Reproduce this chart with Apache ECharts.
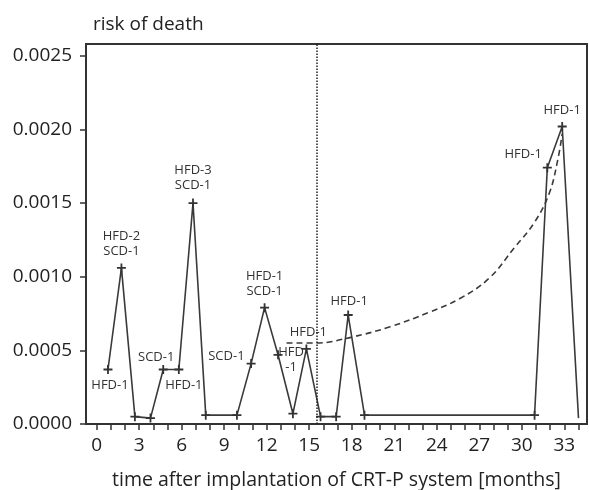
<!DOCTYPE html>
<html>
<head>
<meta charset="utf-8">
<script src="https://cdn.jsdelivr.net/npm/echarts@6/dist/echarts.min.js"></script>
<style>
  html, body { margin: 0; padding: 0; background: #fff; }
  #chart { width: 589px; height: 490px; }
</style>
</head>
<body>
<div id="chart"></div>
<script>
// observed risk per month
const months = [0.8, 1.75, 2.7, 3.8, 4.7, 5.8, 6.8, 7.7, 9.9, 10.9, 11.85, 12.8, 13.85, 14.8, 15.8, 16.9, 17.75, 18.9, 30.9, 31.8, 32.85, 34];
const risk = [0.00037, 0.00106, 0.00005, 0.00004, 0.00037, 0.00037, 0.0015, 0.00006, 0.00006, 0.00041, 0.00079, 0.00047, 0.00007, 0.00051, 0.00005, 0.00005, 0.00074, 0.00006, 0.00006, 0.00174, 0.00202, 0.00004];
const events = ['HFD-1', 'HFD-2\nSCD-1', '', '', 'SCD-1', 'HFD-1', 'HFD-3\nSCD-1', '', '', 'SCD-1', 'HFD-1\nSCD-1', 'HFD\n-1', '', 'HFD-1', '', '', 'HFD-1', '', '', 'HFD-1', 'HFD-1', ''];

// dashed trend curve
const trendMonths = [13.4, 15.5, 18.0, 20.7, 23.5, 25.6, 27.7, 29.5, 30.9, 31.95, 32.55, 32.85];
const trendRisk = [0.00055, 0.00055, 0.00059, 0.00066, 0.00076, 0.00085, 0.00099, 0.0012, 0.00137, 0.00157, 0.0018, 0.00197];

const cutoffMonth = 15.55;
const xTicks = [];
for (let m = 0; m <= 34; m++) xTicks.push(m);
const xLabels = [0, 3, 6, 9, 12, 15, 18, 21, 24, 27, 30, 33];
const yTicks = [0, 0.0005, 0.001, 0.0015, 0.002, 0.0025];

// where each event label sits
const labelPos = {
    0: {position: 'bottom', distance: 4, offset: [2, 0]},
    1: {position: 'top', distance: 5},
    4: {position: 'top', distance: 0, offset: [-7, 0]},
    5: {position: 'bottom', distance: 4, offset: [5, 0]},
    6: {position: 'top', distance: 6},
    9: {position: 'left', distance: 2, offset: [0, -7]},
    10: {position: 'top', distance: 4},
    11: {position: 'inside', offset: [13, 5]},
    13: {position: 'top', distance: 5, offset: [2, 0]},
    16: {position: 'top', distance: 2, offset: [1, 0]},
    19: {position: 'left', distance: 1, offset: [0, -13]},
    20: {position: 'top', distance: 4}
};

const plus = 'path://M4,0H6V4H10V6H6V10H4V6H0V4H4Z';
const ink = '#333';
const font = '"Open Sans", sans-serif';

const riskData = months.map(function (m, i) {
    const item = {value: [m, risk[i]]};
    if (events[i]) {
        item.label = Object.assign({show: true, formatter: events[i]}, labelPos[i]);
    }
    if (i == months.length - 1) item.symbol = 'none';
    return item;
});
const trendData = trendMonths.map(function (m, i) { return [m, trendRisk[i]]; });

const chart = echarts.init(document.getElementById('chart'));
chart.setOption({
    animation: false,
    textStyle: {fontFamily: font},
    title: {
        text: 'risk of death',
        left: 88, top: 10,
        textStyle: {fontFamily: font, fontSize: 19, fontWeight: 'normal', color: '#222'}
    },
    grid: {
        left: 86, right: 2, top: 44, bottom: 66,
        outerBoundsMode: 'none',
        show: true, borderColor: ink, borderWidth: 2
    },
    xAxis: {
        type: 'value',
        min: -0.75, max: 34.6,
        name: 'time after implantation of CRT-P system [months]',
        nameLocation: 'middle',
        nameGap: 46,
        nameTextStyle: {fontFamily: font, fontSize: 19.5, color: '#222'},
        splitLine: {show: false},
        axisLine: {onZero: false, lineStyle: {color: ink, width: 2}},
        axisTick: {customValues: xTicks, length: 6, lineStyle: {color: ink, width: 1.5}},
        axisLabel: {customValues: xLabels, margin: 12, fontSize: 19, color: '#222', fontFamily: font}
    },
    yAxis: {
        type: 'value',
        min: 0, max: 0.00258,
        splitLine: {show: false},
        axisLine: {show: true, onZero: false, lineStyle: {color: ink, width: 2}},
        axisTick: {show: true, customValues: yTicks, length: 6, lineStyle: {color: ink, width: 1.5}},
        axisLabel: {
            customValues: yTicks, margin: 14, fontSize: 19, color: '#222', fontFamily: font,
            formatter: function (v) { return v.toFixed(4); }
        }
    },
    series: [
        {
            type: 'line',
            data: riskData,
            symbol: plus,
            symbolSize: 9,
            showSymbol: true,
            itemStyle: {color: ink},
            lineStyle: {color: '#3a3a3a', width: 1.6},
            label: {fontSize: 13, lineHeight: 15, color: '#333', fontFamily: font},
            markLine: {
                silent: true,
                symbol: 'none',
                label: {show: false},
                lineStyle: {type: [1.5, 1.5], color: '#222', width: 1.5},
                data: [{xAxis: cutoffMonth}]
            },
            z: 3
        },
        {
            type: 'line',
            data: trendData,
            smooth: 0.4,
            symbol: 'none',
            lineStyle: {type: [6, 4], color: '#3a3a3a', width: 1.6},
            z: 2
        }
    ]
});
</script>
</body>
</html>
